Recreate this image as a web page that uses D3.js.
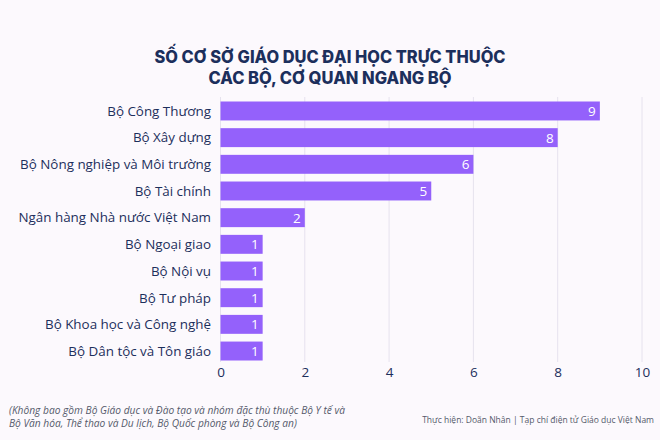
<!DOCTYPE html>
<html><head><meta charset="utf-8">
<script src="https://cdn.jsdelivr.net/npm/d3@7"></script>
<style>
html,body{margin:0;padding:0;background:#fcf9fd;}
svg{display:block;font-family:"Open Sans","Noto Sans",sans-serif;}
</style></head>
<body>
<svg id="c" width="660" height="440"></svg>
<script>
const categories = ["Bộ Công Thương","Bộ Xây dựng","Bộ Nông nghiệp và Môi trường","Bộ Tài chính","Ngân hàng Nhà nước Việt Nam","Bộ Ngoại giao","Bộ Nội vụ","Bộ Tư pháp","Bộ Khoa học và Công nghệ","Bộ Dân tộc và Tôn giáo"];
const values = [9,8,6,5,2,1,1,1,1,1];
const xTicks = [0,2,4,6,8,10];
const titleLines = ["SỐ CƠ SỞ GIÁO DỤC ĐẠI HỌC TRỰC THUỘC","CÁC BỘ, CƠ QUAN NGANG BỘ"];
const noteLines = ["(Không bao gồm Bộ Giáo dục và Đào tạo và nhóm đặc thù thuộc Bộ Y tế và","Bộ Văn hóa, Thể thao và Du lịch, Bộ Quốc phòng và Bộ Công an)"];
const credit = "Thực hiện: Doãn Nhân | Tạp chí điện tử Giáo dục Việt Nam";

const svg = d3.select("#c");
const navy = "#1c2f5c";
const x = d3.scaleLinear().domain([0,10]).range([220.5,642]);
const y = d3.scaleBand().domain(categories).range([97.5,364.5]).paddingInner(0.29).paddingOuter(0.15);

// title
const tw = [351, 243];
svg.selectAll("text.title").data(titleLines).join("text")
  .attr("class","title")
  .attr("x",330).attr("y",(d,i)=>62.5+i*21)
  .attr("text-anchor","middle")
  .attr("font-family","Inter, 'Open Sans', sans-serif")
  .attr("font-size",17).attr("font-weight",800)
  .attr("fill",navy)
  .attr("textLength",(d,i)=>tw[i]).attr("lengthAdjust","spacingAndGlyphs")
  .text(d=>d);

// grid
svg.append("g").selectAll("line").data(xTicks).join("line")
  .attr("x1",d=>x(d)).attr("x2",d=>x(d))
  .attr("y1",97).attr("y2",362)
  .attr("stroke","#e6e2ee").attr("stroke-width",1);

// bars
svg.append("g").selectAll("rect").data(values).join("rect")
  .attr("x",x(0)).attr("y",(d,i)=>y(categories[i]))
  .attr("width",d=>x(d)-x(0)).attr("height",y.bandwidth())
  .attr("fill","#9461fb");

// value labels
svg.append("g").selectAll("text").data(values).join("text")
  .attr("x",d=>x(d)-4).attr("y",(d,i)=>y(categories[i])+y.bandwidth()/2)
  .attr("dy","0.36em").attr("text-anchor","end")
  .attr("font-size",13.5).attr("fill","#ffffff")
  .text(d=>d);

// category labels
svg.append("g").selectAll("text").data(categories).join("text")
  .attr("x",211).attr("y",d=>y(d)+y.bandwidth()/2)
  .attr("dy","0.36em").attr("text-anchor","end")
  .attr("font-size",13.4).attr("fill",navy)
  .text(d=>d);

// x axis
const ax = svg.append("g").attr("transform","translate(0,362)")
  .call(d3.axisBottom(x).tickValues(xTicks).tickSize(0).tickPadding(5));
ax.select(".domain").remove();
ax.selectAll("text").attr("font-size",13.5).attr("fill",navy).attr("font-family","'Open Sans',sans-serif");

// footnote
svg.selectAll("text.note").data(noteLines).join("text")
  .attr("class","note")
  .attr("x",9).attr("y",(d,i)=>413.5+i*13.5)
  .attr("font-size",10.2).attr("font-style","italic").attr("fill","#55596b")
  .text(d=>d);

svg.append("text").attr("x",654).attr("y",422.5).attr("text-anchor","end")
  .attr("font-size",8.5).attr("fill","#55596b")
  .text(credit);
</script>
</body></html>
